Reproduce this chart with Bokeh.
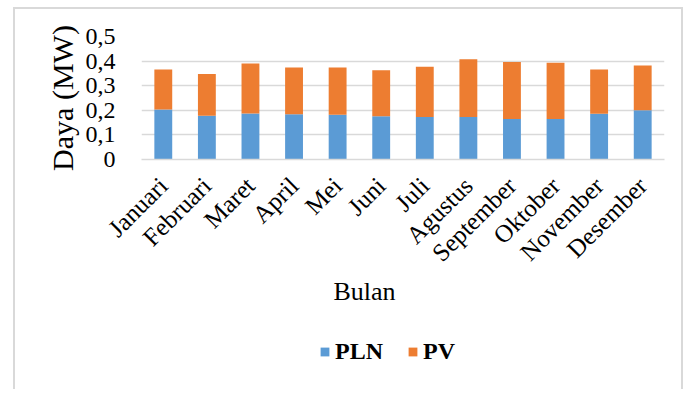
from bokeh.plotting import figure
from bokeh.layouts import column
from bokeh.models import FixedTicker, Legend, Title
from bokeh.embed import file_html
from bokeh.resources import INLINE
from math import pi

months = ["Januari", "Februari", "Maret", "April", "Mei", "Juni", "Juli",
          "Agustus", "September", "Oktober", "November", "Desember"]
pln = [0.203, 0.178, 0.187, 0.184, 0.182, 0.176, 0.173, 0.173, 0.165, 0.165, 0.186, 0.200]
pv = [0.163, 0.170, 0.203, 0.190, 0.192, 0.187, 0.204, 0.235, 0.231, 0.228, 0.180, 0.182]
series = ["PLN", "PV"]
colors = ["#5B9BD5", "#ED7D31"]
y_ticks = [0, 0.1, 0.2, 0.3, 0.4, 0.5]
y_tick_labels = ["0", "0,1", "0,2", "0,3", "0,4", "0,5"]
x_title = "Bulan"
y_title = "Daya (MW)"

FONT = "Liberation Serif"
W = 683
H1 = 320
H2 = 69

data = {"months": months, "PLN": pln, "PV": pv}

p = figure(x_range=months, y_range=(0, 0.5), width=W, height=H1,
           output_backend="svg", toolbar_location=None,
           min_border_left=141, min_border_right=19,
           min_border_top=36, min_border_bottom=H1 - 159)
p.x_range.range_padding = 0
p.border_fill_color = None
p.background_fill_color = None
p.outline_line_color = None

p.vbar_stack(series, x="months", width=0.41, color=colors, source=data,
             line_color=None)

p.ygrid.ticker = FixedTicker(ticks=y_ticks)
p.ygrid.grid_line_color = "#d9d9d9"
p.ygrid.grid_line_width = 1.6
p.xgrid.grid_line_color = None

ya = p.yaxis[0]
ya.ticker = FixedTicker(ticks=y_ticks)
ya.major_label_overrides = dict(zip(y_ticks, y_tick_labels))
ya.axis_line_color = None
ya.major_tick_line_color = None
ya.minor_tick_line_color = None
ya.major_label_text_font = FONT
ya.major_label_text_font_size = "24px"
ya.major_label_text_color = "black"
ya.major_label_standoff = 20
ya.axis_label = y_title
ya.axis_label_text_font = FONT
ya.axis_label_text_font_size = "30px"
ya.axis_label_text_font_style = "normal"
ya.axis_label_text_color = "black"
ya.axis_label_standoff = 4

xa = p.xaxis[0]
xa.axis_line_color = "#d9d9d9"
xa.axis_line_width = 1.6
xa.major_tick_line_color = None
xa.minor_tick_line_color = None
xa.major_label_orientation = pi / 4
xa.major_label_text_font = FONT
xa.major_label_text_font_size = "25px"
xa.major_label_text_color = "black"
xa.major_label_standoff = 16

xt = Title(text=x_title, align="left", offset=192, standoff=-10,
           text_font=FONT, text_font_size="26px", text_font_style="normal",
           text_color="black")
p.add_layout(xt, "below")

# legend strip (its frame is aligned with the chart frame by the column)
q = figure(x_range=months, y_range=(1, 2), width=W, height=H2,
           output_backend="svg", toolbar_location=None,
           x_axis_location=None, y_axis_location=None,
           min_border_top=0, min_border_bottom=0)
q.grid.visible = False
q.outline_line_color = None
q.border_fill_color = None
q.background_fill_color = None
lr = q.vbar_stack(series, x="months", width=0.41, color=colors, source=dict(data),
                  line_color=None)

legend = Legend(items=[(s, [r]) for s, r in zip(series, lr)],
                location=(178, 24), orientation="horizontal",
                border_line_color=None, background_fill_color=None,
                padding=0, margin=0, spacing=24, label_standoff=5,
                glyph_width=11, glyph_height=11,
                label_text_font=FONT, label_text_font_size="24px",
                label_text_font_style="bold", label_text_color="black")
q.add_layout(legend, "center")

layout = column(p, q, spacing=0)
layout.styles = {"box-shadow": ("inset 13px 0 0 white, inset 0 7px 0 white, "
                                "inset 15px 0 0 #d9d9d9, inset 0 9px 0 #d9d9d9, "
                                "inset -2px 0 0 #d9d9d9")}

open("out.html", "w").write(file_html(layout, INLINE))
